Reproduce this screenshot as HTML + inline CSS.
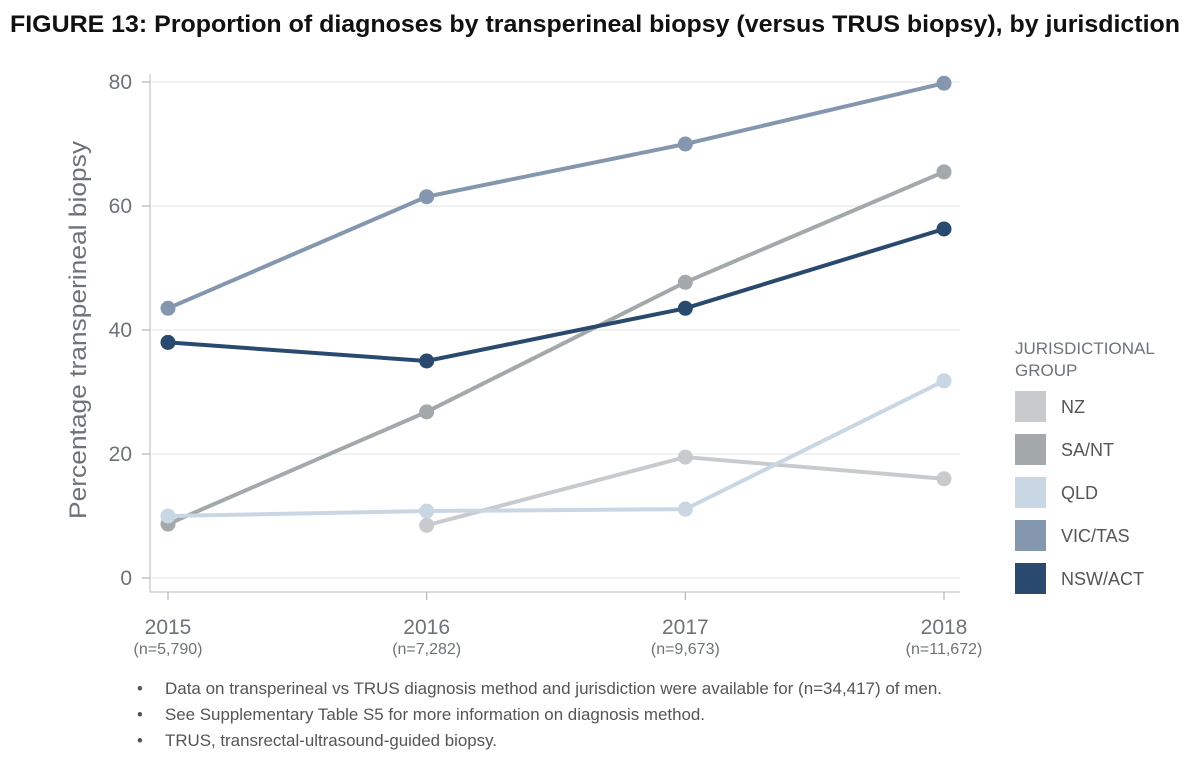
<!DOCTYPE html>
<html><head><meta charset="utf-8"><style>
body{margin:0;background:#fff;width:1200px;height:766px;overflow:hidden;font-family:"Liberation Sans",sans-serif}
</style></head><body>
<svg width="1200" height="766" xmlns="http://www.w3.org/2000/svg">
<text x="10" y="32" font-size="24" font-weight="bold" fill="#111" textLength="1170" lengthAdjust="spacingAndGlyphs">FIGURE 13: Proportion of diagnoses by transperineal biopsy (versus TRUS biopsy), by jurisdiction</text>
<g id="grid"></g><g id="axes"></g><g id="series"></g><g id="legend"></g>
<text transform="translate(86,330) rotate(-90)" text-anchor="middle" font-size="24" fill="#6d7378" textLength="378" lengthAdjust="spacingAndGlyphs">Percentage transperineal biopsy</text>
<g font-size="16.5" fill="#555">
<text x="137" y="694">•</text><text x="165" y="694" textLength="777" lengthAdjust="spacingAndGlyphs">Data on transperineal vs TRUS diagnosis method and jurisdiction were available for (n=34,417) of men.</text>
<text x="137" y="720">•</text><text x="165" y="720" textLength="540" lengthAdjust="spacingAndGlyphs">See Supplementary Table S5 for more information on diagnosis method.</text>
<text x="137" y="746">•</text><text x="165" y="746" textLength="332" lengthAdjust="spacingAndGlyphs">TRUS, transrectal-ultrasound-guided biopsy.</text>
</g>
</svg>
<script>
const years=["2015","2016","2017","2018"];
const ns=["(n=5,790)","(n=7,282)","(n=9,673)","(n=11,672)"];
const yTicks=[0,20,40,60,80];
const seriesNames=["NZ","SA/NT","QLD","VIC/TAS","NSW/ACT"];
const nz=[null,8.5,19.5,16];
const sant=[8.7,26.8,47.7,65.5];
const qld=[10,10.8,11.1,31.8];
const victas=[43.5,61.5,70,79.8];
const nswact=[38,35,43.5,56.3];
const colors=["#c8cbce","#a3a8ab","#c9d7e4","#8497ae","#294a6e"];
const all=[nz,sant,qld,victas,nswact];
const SVG="http://www.w3.org/2000/svg";
const x=i=>168+i*(944-168)/3;
const y=v=>578-v*6.2;
function mk(p,t,a){const e=document.createElementNS(SVG,t);for(const k in a)e.setAttribute(k,a[k]);p.appendChild(e);return e;}
const grid=document.getElementById('grid'),axes=document.getElementById('axes'),ser=document.getElementById('series'),leg=document.getElementById('legend');
yTicks.forEach(t=>{
 const l=mk(grid,'line',{x1:150,x2:960,y1:y(t),y2:y(t),stroke:'#e3e6e8','stroke-width':1});
 
 
 mk(axes,'line',{x1:142,x2:150,y1:y(t),y2:y(t),stroke:'#aaa'});
 const tx=mk(axes,'text',{x:132,y:y(t)+7,'text-anchor':'end','font-size':21,fill:'#6d7378'});tx.textContent=t;
 
 
});
mk(axes,'line',{x1:150,x2:150,y1:74,y2:592,stroke:'#b5b9bc'});
mk(axes,'line',{x1:150,x2:960,y1:592,y2:592,stroke:'#b5b9bc'});
years.forEach((yr,i)=>{
 mk(axes,'line',{x1:x(i),x2:x(i),y1:592,y2:600,stroke:'#aaa'});
 const t=mk(axes,'text',{x:x(i),y:634,'text-anchor':'middle','font-size':21,fill:'#6d7378'});t.textContent=yr;
 
 
 const n=mk(axes,'text',{x:x(i),y:654,'text-anchor':'middle','font-size':16,fill:'#6d7378'});n.textContent=ns[i];
 
 
});
all.forEach((d,s)=>{
 const g=mk(ser,'g',{});
 
 
 const pts=d.map((v,i)=>v==null?null:[x(i),y(v)]).filter(p=>p);
 mk(g,'polyline',{points:pts.map(p=>p.join(',')).join(' '),fill:'none',stroke:colors[s],'stroke-width':4});
 pts.forEach(p=>{const c=mk(g,'circle',{cx:p[0],cy:p[1],r:7.5,fill:colors[s]});
  
  });
});
const lt=mk(leg,'text',{x:1015,y:354,'font-size':17,fill:'#6d7378'});lt.textContent='JURISDICTIONAL';


const lt2=mk(leg,'text',{x:1015,y:376,'font-size':17,fill:'#6d7378'});lt2.textContent='GROUP';


seriesNames.forEach((n,i)=>{
 const g=mk(leg,'g',{});
 
 
 mk(g,'rect',{x:1015,y:391+i*43,width:31,height:31,fill:colors[i]});
 const t=mk(g,'text',{x:1061,y:413+i*43,'font-size':18,fill:'#555'});t.textContent=n;
});
</script>
</body></html>
